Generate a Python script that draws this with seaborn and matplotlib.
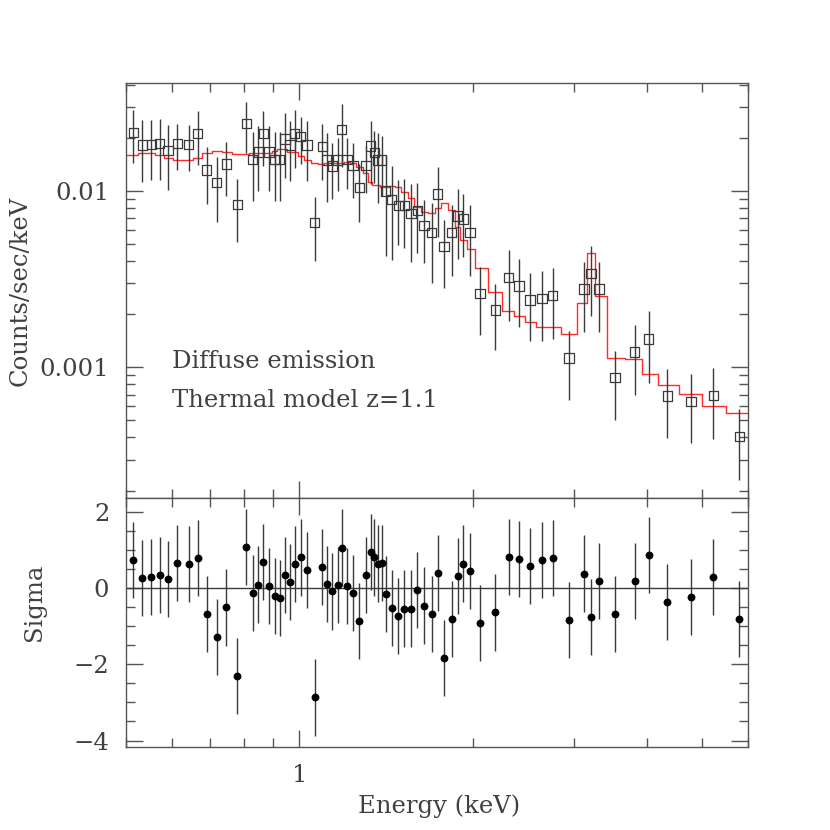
import matplotlib
matplotlib.use("Agg")
import numpy as np
import matplotlib.pyplot as plt
from matplotlib.ticker import LogLocator, NullFormatter, FixedLocator, MultipleLocator
import seaborn as sns

# bin centres (keV)
energy = [0.515, 0.534, 0.553, 0.572, 0.591, 0.614, 0.642, 0.666, 0.690, 0.718,
          0.747, 0.780, 0.809, 0.829, 0.848, 0.866, 0.886, 0.905, 0.924, 0.943,
          0.962, 0.981, 1.005, 1.030, 1.062, 1.095, 1.114, 1.140, 1.164, 1.183,
          1.208, 1.238, 1.270, 1.304, 1.328, 1.348, 1.366, 1.388, 1.411, 1.445,
          1.484, 1.520, 1.561, 1.601, 1.644, 1.696, 1.737, 1.781, 1.837, 1.881,
          1.924, 1.976, 2.057, 2.188, 2.307, 2.404, 2.512, 2.633, 2.748, 2.937,
          3.114, 3.206, 3.306, 3.525, 3.814, 4.034, 4.345, 4.782, 5.224, 5.796]

# observed spectrum (counts/sec/keV)
counts = [0.02153, 0.01824, 0.01840, 0.01855, 0.01693, 0.01855, 0.01840, 0.02125, 0.01315, 0.01114,
          0.01422, 0.00841, 0.02421, 0.01513, 0.01664, 0.02113, 0.01664, 0.01513, 0.01513, 0.01972,
          0.01824, 0.02125, 0.02032, 0.01824, 0.00661, 0.01784, 0.01499, 0.01386, 0.01499, 0.02239,
          0.01513, 0.01391, 0.01044, 0.01391, 0.01800, 0.01649, 0.01499, 0.01499, 0.01000, 0.00897,
          0.00825, 0.00825, 0.00747, 0.00777, 0.00639, 0.00580, 0.00962, 0.00483, 0.00580, 0.00721,
          0.00694, 0.00580, 0.00263, 0.00211, 0.00322, 0.00289, 0.00241, 0.00246, 0.00255, 0.00113,
          0.00278, 0.00341, 0.00278, 0.000873, 0.00122, 0.00145, 0.000688, 0.000642, 0.000694, 0.000404]

counts_err = [0.0072, 0.0070, 0.0069, 0.0070, 0.0068, 0.0054, 0.0054, 0.0072, 0.0047, 0.0045,
              0.0048, 0.0033, 0.0077, 0.0064, 0.0067, 0.0073, 0.0067, 0.0064, 0.0064, 0.0078,
              0.0068, 0.0077, 0.0060, 0.0068, 0.0026, 0.0063, 0.0063, 0.0048, 0.0050, 0.0087,
              0.0048, 0.0048, 0.0038, 0.0042, 0.0071, 0.0054, 0.0064, 0.0056, 0.0057, 0.0049,
              0.0033, 0.0035, 0.0035, 0.0033, 0.0025, 0.0028, 0.0041, 0.0020, 0.0025, 0.0031,
              0.0027, 0.0025, 0.0011, 0.00085, 0.0014, 0.0012, 0.0010, 0.00105, 0.0011, 0.00048,
              0.0012, 0.00145, 0.0012, 0.00037, 0.00052, 0.00063, 0.00029, 0.00027, 0.00030, 0.000175]

# thermal model, one value per bin
model = [0.01600, 0.01636, 0.01636, 0.01600, 0.01533, 0.01493, 0.01493, 0.01533, 0.01636, 0.01686,
         0.01658, 0.01615, 0.01615, 0.01636, 0.01636, 0.01636, 0.01636, 0.01686, 0.01724, 0.01724,
         0.01670, 0.01670, 0.01579, 0.01499, 0.01436, 0.01422, 0.01447, 0.01436, 0.01436, 0.01447,
         0.01466, 0.01436, 0.01362, 0.01260, 0.01129, 0.01081, 0.01081, 0.01058, 0.01058, 0.01071,
         0.01058, 0.00991, 0.00909, 0.00815, 0.00763, 0.00747, 0.00798, 0.00859, 0.00780, 0.00627,
         0.00527, 0.00467, 0.00364, 0.00266, 0.00209, 0.00195, 0.00181, 0.00170, 0.00170, 0.00154,
         0.00232, 0.00447, 0.00255, 0.00113, 0.00112, 0.000917, 0.000794, 0.000703, 0.000606, 0.000548]

# residuals in sigma
sigma = [0.73, 0.27, 0.28, 0.35, 0.23, 0.66, 0.63, 0.78, -0.68, -1.29,
         -0.51, -2.30, 1.07, -0.14, 0.09, 0.69, 0.06, -0.21, -0.27, 0.35,
         0.15, 0.63, 0.80, 0.47, -2.87, 0.55, 0.10, -0.09, 0.07, 1.06,
         0.05, -0.13, -0.86, 0.35, 0.94, 0.80, 0.64, 0.66, -0.16, -0.52,
         -0.73, -0.54, -0.54, -0.06, -0.46, -0.69, 0.39, -1.83, -0.81, 0.32,
         0.64, 0.45, -0.92, -0.64, 0.82, 0.76, 0.57, 0.73, 0.78, -0.84,
         0.38, -0.77, 0.19, -0.69, 0.19, 0.86, -0.36, -0.24, 0.29, -0.82]

x_min, x_max = 0.5, 6.0
ink = "#404040"
frame = "#555555"
fs = 17.5

sns.set_theme(style="ticks")
plt.rcParams["font.family"] = ["DejaVu Serif"]
plt.rcParams.update({
    "font.size": fs,
    "axes.labelsize": fs,
    "xtick.labelsize": fs,
    "ytick.labelsize": fs,
    "text.color": ink,
    "axes.labelcolor": ink,
    "xtick.color": frame,
    "ytick.color": frame,
    "xtick.labelcolor": ink,
    "ytick.labelcolor": ink,
})

fig = plt.figure(figsize=(8.3, 8.3), dpi=100)
ax1 = fig.add_axes([0.1518, 0.4, 0.7494, 0.4996])
ax2 = fig.add_axes([0.1518, 0.1, 0.7494, 0.3])

# step edges halfway (in log E) between bins
logE = np.log10(energy)
mids = (logE[1:] + logE[:-1]) / 2
edges = np.concatenate([[np.log10(x_min)], mids, [2 * logE[-1] - mids[-1]]])
edges = 10 ** edges
sns.lineplot(x=edges, y=list(model) + [model[-1]], drawstyle="steps-post",
             color="#ff2a2a", linewidth=1.0, ax=ax1, sort=False)

ax1.errorbar(energy, counts, yerr=counts_err, fmt="none", ecolor="#3a3a3a",
             elinewidth=1.0, capsize=0)
sns.scatterplot(x=energy, y=counts, marker="s", s=46, facecolor="none",
                edgecolor="#3a3a3a", linewidth=0.9, ax=ax1, zorder=3)

ax1.text(0.074, 0.313, "Diffuse emission", transform=ax1.transAxes, va="baseline")
ax1.text(0.074, 0.220, "Thermal model z=1.1", transform=ax1.transAxes, va="baseline")

ax2.axhline(0, color="#3a3a3a", linewidth=1.0)
ax2.errorbar(energy, sigma, yerr=1.0, fmt="none", ecolor="#3a3a3a", elinewidth=1.0, capsize=0)
sns.scatterplot(x=energy, y=sigma, marker="o", s=32, color="black",
                edgecolor="black", linewidth=0, ax=ax2, zorder=3)

for ax in (ax1, ax2):
    ax.set_xscale("log")
    ax.set_xlim(x_min, x_max)
    ax.xaxis.set_major_locator(FixedLocator([1]))
    ax.xaxis.set_minor_locator(LogLocator(base=10, subs=np.arange(2, 10) * 1.0))
    ax.xaxis.set_minor_formatter(NullFormatter())
    ax.tick_params(which="both", direction="in", top=True, right=True, width=1.0, color=frame)
    ax.tick_params(which="major", length=12, pad=12)
    ax.tick_params(which="minor", length=6.5)
    for s in ax.spines.values():
        s.set_color(frame)
        s.set_linewidth(1.0)

ax1.set_yscale("log")
ax1.set_ylim(1.815e-4, 0.0408)
ax1.yaxis.set_major_locator(FixedLocator([0.001, 0.01]))
ax1.set_yticklabels(["0.001", "0.01"])
ax1.yaxis.set_minor_locator(LogLocator(base=10, subs=np.arange(2, 10) * 1.0))
ax1.yaxis.set_minor_formatter(NullFormatter())
ax1.set_xticklabels([])
ax1.set_xlabel("")
ax1.set_ylabel("Counts/sec/keV")
ax1.yaxis.set_label_coords(-0.151, 0.5)

ax2.set_ylim(-4.17, 2.36)
ax2.yaxis.set_major_locator(FixedLocator([-4, -2, 0, 2]))
ax2.yaxis.set_minor_locator(MultipleLocator(0.5))
ax2.set_xticklabels(["1"])
ax2.set_ylabel("Sigma")
ax2.yaxis.set_label_coords(-0.129, 0.58)
ax2.set_xlabel("Energy (keV)")
ax2.xaxis.set_label_coords(0.503, -0.19)

fig.savefig("out.png", dpi=100)
